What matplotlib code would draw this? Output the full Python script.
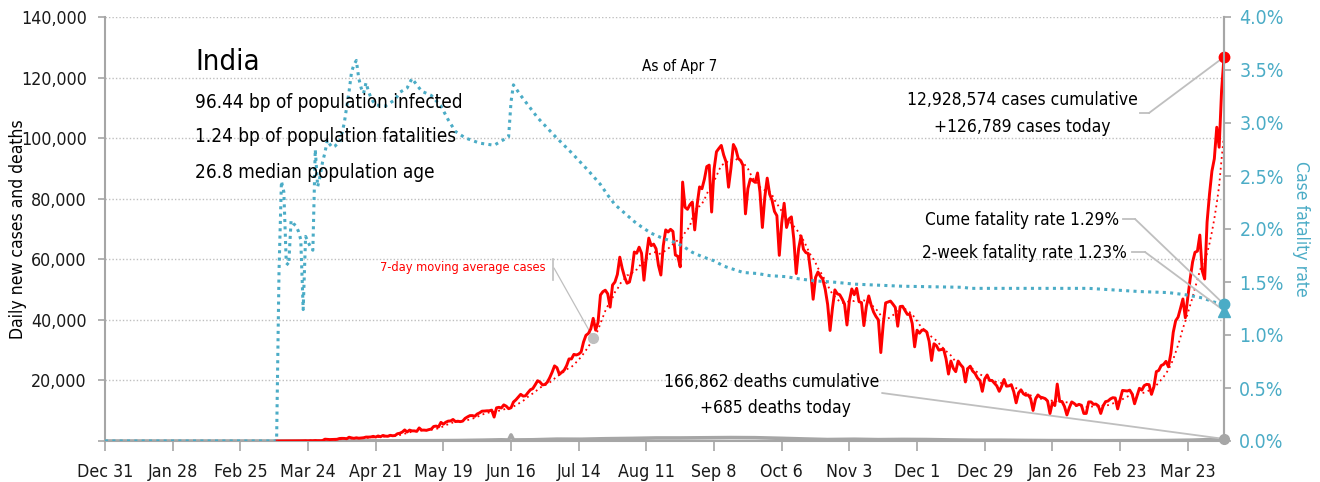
import numpy as np
import pandas as pd
import matplotlib
matplotlib.use("Agg")
import matplotlib.pyplot as plt
from matplotlib import font_manager
from matplotlib.lines import Line2D
from matplotlib.ticker import FuncFormatter, FixedLocator

# prefer a narrow face when one is installed
_fonts = font_manager.fontManager.ttflist
if any(f.name == 'Liberation Sans Narrow' for f in _fonts):
    FAMILY, STRETCH = 'Liberation Sans Narrow', 'normal'
elif any(f.name == 'DejaVu Sans' and f.stretch == 'condensed' for f in _fonts):
    FAMILY, STRETCH = 'DejaVu Sans', 'condensed'
else:
    FAMILY, STRETCH = 'Liberation Sans', 'normal'
plt.rcParams['font.family'] = [FAMILY, 'DejaVu Sans']
plt.rcParams['font.stretch'] = STRETCH

RED = '#FF0000'
CYAN = '#4BACC6'
GRAY = '#A6A6A6'
LIGHT = '#BFBFBF'
INK = '#1a1a1a'

# daily new cases, one list per month (first case day shown: Mar 11 2020)
cases_2020_03 = [6, 11, 10, 9, 13, 8, 23, 14, 38, 50, 86, 66, 103, 37, 121, 70, 160, 100, 87, 146, 601]
cases_2020_04 = [545, 478, 513, 573, 565, 813, 871, 854, 758, 1243, 1031, 886, 1061, 922, 1007, 1079, 1300, 1291,
                 1334, 1540, 1297, 1667, 1408, 1835, 1607, 1561, 1873, 1738, 1801, 2396]
cases_2020_05 = [2564, 2952, 3656, 2971, 3602, 3344, 3339, 3175, 4311, 3592, 3604, 3524, 3763, 3942, 4794, 4930,
                 4630, 6147, 5553, 6198, 6568, 6629, 7111, 6414, 6535, 6387, 6566, 7466, 7964, 8380, 8392]
cases_2020_06 = [8171, 8909, 9304, 9851, 9887, 9971, 9983, 10200, 7900, 10956, 11128, 10900, 11929, 11502, 10667,
                 10974, 12881, 13586, 14516, 15413, 14821, 14933, 15968, 16922, 17296, 18552, 19906, 19459, 18522, 18653]
cases_2020_07 = [19400, 20900, 22700, 24800, 24200, 22000, 22700, 23400, 24900, 27100, 27100, 28600, 28400, 28700,
                 29400, 32700, 34900, 35500, 37000, 40500, 36600, 39200, 48200, 49300, 49800, 48600, 44200, 51500,
                 52500, 55000, 60700]
cases_2020_08 = [57000, 54100, 52100, 52500, 56000, 62400, 62000, 64000, 62000, 53100, 60900, 67000, 64500, 65000,
                 63500, 58000, 54800, 64500, 69700, 69000, 69900, 69200, 61400, 61000, 57500, 85500, 77200, 76500,
                 78000, 78900, 69700]
cases_2020_09 = [78000, 83900, 83300, 86400, 90600, 91100, 75600, 89700, 95500, 96600, 97600, 94400, 92100, 83800,
                 90100, 97900, 96400, 93300, 92600, 91000, 75000, 83300, 86500, 86000, 85400, 88500, 82200, 70500,
                 80500, 86800]
cases_2020_10 = [81500, 79500, 75800, 74400, 61300, 72000, 78500, 70500, 73300, 74000, 66700, 55300, 63500, 67700,
                 63300, 62200, 61900, 55700, 46800, 54000, 55800, 54400, 53400, 50100, 45100, 36500, 43900, 49900,
                 48600, 48300, 46900]
cases_2020_11 = [45200, 38300, 46300, 50200, 48300, 50400, 46000, 45700, 38100, 44300, 47900, 44900, 42600, 41100,
                 40000, 29200, 38600, 45600, 45900, 46200, 45200, 44100, 37900, 44400, 44500, 43100, 41800, 41800,
                 38800, 31100]
cases_2020_12 = [36600, 35600, 36600, 36600, 36000, 32900, 26600, 32100, 31500, 30000, 30200, 30300, 27100, 22100,
                 26400, 24000, 22900, 26400, 25200, 24300, 19500, 23900, 24700, 23100, 22300, 20800, 20000, 16400,
                 20500, 21800, 20000]
cases_2021_01 = [20000, 19100, 18200, 16400, 18100, 20300, 18100, 18200, 18600, 16300, 12600, 15900, 16900, 15600,
                 15100, 15200, 14000, 10100, 13800, 15200, 14500, 14300, 14000, 13200, 9100, 12700, 11700, 18800,
                 13100, 13000, 11400]
cases_2021_02 = [8600, 11000, 12900, 12400, 11700, 12100, 11800, 9100, 9100, 12900, 12900, 12100, 12200, 11600,
                 9100, 11600, 13000, 13200, 13900, 14300, 14200, 10600, 13700, 16700, 16600, 16500, 16800, 15500]
cases_2021_03 = [12300, 14900, 17400, 16800, 18300, 18700, 18600, 15400, 17900, 22900, 23300, 24900, 25300, 26300,
                 24500, 28900, 35900, 39700, 40900, 43800, 46900, 40700, 47300, 53500, 59100, 62300, 62700, 68000,
                 56200, 53500, 72300]
cases_2021_04 = [81500, 89100, 93200, 103600, 97000, 115700, 126789]

# daily deaths (sampled dates)
death_dates = ['2019-12-31', '2020-03-11', '2020-03-25', '2020-04-05', '2020-04-15', '2020-04-25', '2020-05-05',
               '2020-05-15', '2020-05-25', '2020-06-05', '2020-06-12', '2020-06-15', '2020-06-16', '2020-06-17',
               '2020-06-25', '2020-07-05', '2020-07-15', '2020-07-25', '2020-08-05', '2020-08-15', '2020-08-25',
               '2020-09-05', '2020-09-15', '2020-09-25', '2020-10-05', '2020-10-15', '2020-10-25', '2020-11-05',
               '2020-11-15', '2020-11-25', '2020-12-05', '2020-12-15', '2020-12-25', '2021-01-05', '2021-01-15',
               '2021-01-25', '2021-02-05', '2021-02-15', '2021-02-25', '2021-03-05', '2021-03-15', '2021-03-25',
               '2021-04-01', '2021-04-06', '2021-04-07']
deaths = [0, 0, 5, 30, 40, 50, 100, 110, 150, 280, 390, 330, 2003, 340, 400, 610, 580, 750, 860, 1000, 1000,
          1070, 1130, 1090, 900, 680, 480, 580, 450, 520, 480, 350, 250, 250, 180, 130, 120, 90, 110, 100, 160,
          275, 460, 446, 685]

# case fatality rate, %
cfr_dates = ['2019-12-31', '2020-03-11', '2020-03-12', '2020-03-13', '2020-03-14', '2020-03-15', '2020-03-16',
             '2020-03-17', '2020-03-18', '2020-03-19', '2020-03-20', '2020-03-21', '2020-03-22', '2020-03-23',
             '2020-03-24', '2020-03-25', '2020-03-26', '2020-03-27', '2020-03-28', '2020-03-29', '2020-03-30',
             '2020-03-31', '2020-04-01', '2020-04-02', '2020-04-03', '2020-04-04', '2020-04-05', '2020-04-06',
             '2020-04-07', '2020-04-08', '2020-04-09', '2020-04-10', '2020-04-11', '2020-04-12', '2020-04-13',
             '2020-04-14', '2020-04-15', '2020-04-16', '2020-04-17', '2020-04-18', '2020-04-19', '2020-04-20',
             '2020-04-21', '2020-04-25', '2020-04-29', '2020-05-01', '2020-05-04', '2020-05-06', '2020-05-08',
             '2020-05-10', '2020-05-14', '2020-05-18', '2020-05-21', '2020-05-24', '2020-05-28', '2020-06-03',
             '2020-06-09', '2020-06-15', '2020-06-16', '2020-06-17', '2020-06-20', '2020-06-27', '2020-07-04',
             '2020-07-11', '2020-07-18', '2020-07-23', '2020-07-26', '2020-07-29', '2020-08-02', '2020-08-06',
             '2020-08-09', '2020-08-13', '2020-08-17', '2020-08-22', '2020-08-26', '2020-08-30', '2020-09-03',
             '2020-09-08', '2020-09-12', '2020-09-16', '2020-09-20', '2020-09-26', '2020-10-01', '2020-10-08',
             '2020-10-13', '2020-10-20', '2020-10-27', '2020-11-05', '2020-11-15', '2020-11-25', '2020-12-20',
             '2020-12-23', '2021-01-20', '2021-02-10', '2021-02-24', '2021-03-03', '2021-03-15', '2021-03-22',
             '2021-03-29', '2021-04-03', '2021-04-07']
cfr_pct = [0, 0, 1.6, 2.45, 2.35, 1.68, 1.66, 2.08, 2.05, 2.03, 1.98, 1.9, 1.24, 1.93, 1.88, 1.83, 1.8, 2.75, 2.4,
           2.5, 2.63, 2.72, 2.84, 2.8, 2.77, 2.78, 2.8, 2.81, 2.9, 3.0, 3.15, 3.3, 3.48, 3.55, 3.59, 3.42, 3.33,
           3.28, 3.38, 3.3, 3.24, 3.2, 3.17, 3.16, 3.22, 3.29, 3.33, 3.42, 3.36, 3.3, 3.26, 3.16, 3.03, 2.92, 2.86,
           2.81, 2.79, 2.87, 3.2, 3.36, 3.26, 3.05, 2.88, 2.72, 2.55, 2.42, 2.32, 2.23, 2.15, 2.07, 2.02, 1.96,
           1.92, 1.88, 1.84, 1.78, 1.74, 1.70, 1.65, 1.62, 1.59, 1.58, 1.56, 1.55, 1.53, 1.51, 1.50, 1.48, 1.47,
           1.46, 1.45, 1.44, 1.44, 1.44, 1.42, 1.41, 1.40, 1.38, 1.35, 1.31, 1.29]

cume_cfr = 1.29
two_week_cfr = 1.23
cume_cases = 12928574
cume_deaths = 166862

cases = np.array(cases_2020_03 + cases_2020_04 + cases_2020_05 + cases_2020_06 + cases_2020_07 + cases_2020_08
                 + cases_2020_09 + cases_2020_10 + cases_2020_11 + cases_2020_12 + cases_2021_01 + cases_2021_02
                 + cases_2021_03 + cases_2021_04)
dates = pd.date_range('2020-03-11', periods=len(cases), freq='D')
ma7 = pd.Series(cases, index=dates).rolling(7).mean()
death_dates = pd.to_datetime(death_dates)
cfr_dates = pd.to_datetime(cfr_dates)
cfr = np.array(cfr_pct) / 100
last = dates[-1]

W, H = 1320, 482
fig = plt.figure(figsize=(W / 100, H / 100), dpi=100)
ax = fig.add_axes([105 / W, 41 / H, 1119 / W, 424 / H])
ax2 = ax.twinx()


def fp(x, y):
    # pixel position (from top-left) -> figure fraction
    return x / W, 1 - y / H


# left axis: cases and deaths
ax.plot(death_dates, deaths, color=GRAY, lw=2.6, zorder=2, solid_capstyle='butt')
ax.plot(dates, ma7.values, color=RED, lw=1.3, ls=(0, (1, 2)), zorder=3)
ax.plot(dates, cases, color=RED, lw=2.1, zorder=4)
ax.plot([last], [cases[-1]], 'o', color=RED, ms=7.5, zorder=6, clip_on=False)
ax.plot([death_dates[-1]], [deaths[-1]], 'o', color=GRAY, ms=7, zorder=6, clip_on=False)

ma_date = pd.Timestamp('2020-07-20')
ax.plot([ma_date], [ma7[ma_date]], 'o', color=LIGHT, ms=7, zorder=5)

ax.set_xlim(pd.Timestamp('2019-12-31'), last)
ax.set_ylim(0, 140000)
ax.yaxis.set_major_locator(FixedLocator(np.arange(0, 140001, 20000)))
ax.yaxis.set_major_formatter(FuncFormatter(lambda v, p: '' if v == 0 else f'{v:,.0f}'))
xt = pd.date_range('2019-12-31', periods=17, freq='28D')
ax.set_xticks(xt)
ax.set_xticklabels([d.strftime('%b ') + str(d.day) for d in xt])
ax.yaxis.grid(True, ls=(0, (1, 1.5)), color=LIGHT, lw=1)
ax.set_axisbelow(True)

for a in (ax, ax2):
    a.spines['top'].set_visible(False)
    for s in ('left', 'right', 'bottom'):
        a.spines[s].set_color(GRAY)
        a.spines[s].set_linewidth(1.5)
ax2.spines['left'].set_visible(False)
ax2.spines['bottom'].set_visible(False)

ax.tick_params(axis='y', direction='out', length=5, width=1.2, color=GRAY, labelsize=12.8, pad=8, labelcolor=INK)
ax.tick_params(axis='x', direction='out', length=7, width=1.2, color=GRAY, labelsize=12.8, pad=9, labelcolor=INK)
ax.set_ylabel('Daily new cases and deaths', fontsize=12.6)
ax.yaxis.set_label_coords(-0.07, 0.5)

# right axis: case fatality rate
ax2.plot(cfr_dates, cfr, color=CYAN, lw=2.2, ls=(0, (1, 1.4)), zorder=3)
ax2.plot([last], [cume_cfr / 100], 'o', color=CYAN, ms=7.5, zorder=6, clip_on=False)
ax2.plot([last], [two_week_cfr / 100], '^', color=CYAN, ms=8, zorder=6, clip_on=False)
ax2.set_ylim(0, 0.04)
ax2.yaxis.set_major_locator(FixedLocator(np.arange(0, 0.0401, 0.005)))
ax2.yaxis.set_major_formatter(FuncFormatter(lambda v, p: f'{v * 100:.1f}%'))
ax2.tick_params(axis='y', direction='out', length=5, width=1.2, color=GRAY, labelsize=14, pad=6, labelcolor=CYAN)
ax2.set_ylabel('Case fatality rate', fontsize=12.6, color=CYAN, rotation=270, va='bottom')
ax2.yaxis.set_label_coords(1.061, 0.5)

# headline block
fig.text(*fp(195, 62), 'India', fontsize=21, ha='left', va='center')
fig.text(*fp(195, 102), '96.44 bp of population infected', fontsize=13.6, ha='left', va='center')
fig.text(*fp(195, 137), '1.24 bp of population fatalities', fontsize=13.6, ha='left', va='center')
fig.text(*fp(195, 172), '26.8 median population age', fontsize=13.6, ha='left', va='center')
fig.text(*fp(680, 67), 'As of Apr 7', fontsize=11, ha='center', va='center')

# callouts
fig.text(*fp(1022, 100), f'{cume_cases:,} cases cumulative', fontsize=12.5, ha='center', va='center')
fig.text(*fp(1022, 127), f'+{cases[-1]:,} cases today', fontsize=12.5, ha='center', va='center')
fig.text(*fp(1119, 220), f'Cume fatality rate {cume_cfr:.2f}%', fontsize=12.3, ha='right', va='center')
fig.text(*fp(1127, 253), f'2-week fatality rate {two_week_cfr:.2f}%', fontsize=12.3, ha='right', va='center')
fig.text(*fp(772, 382), f'{cume_deaths:,} deaths cumulative', fontsize=12.5, ha='center', va='center')
fig.text(*fp(775, 408), f'+{deaths[-1]:,} deaths today', fontsize=12.5, ha='center', va='center')
fig.text(*fp(546, 268), '7-day moving average cases', fontsize=9.2, ha='right', va='center', color=RED)

leader = dict(arrowstyle='-', color=LIGHT, lw=1.3, shrinkA=0, shrinkB=0)


def stub(x0, x1, y):
    fig.add_artist(Line2D([x0 / W, x1 / W], [1 - y / H, 1 - y / H], color=LIGHT, lw=1.3))


stub(1140, 1149, 113)
ax.annotate('', xy=(last, cases[-1]), xytext=fp(1149, 113), textcoords='figure fraction', arrowprops=leader)
stub(1123, 1135, 219)
ax2.annotate('', xy=(last, cume_cfr / 100), xytext=fp(1135, 219), textcoords='figure fraction', arrowprops=leader)
stub(1132, 1145, 252)
ax2.annotate('', xy=(last, two_week_cfr / 100), xytext=fp(1145, 252), textcoords='figure fraction',
             arrowprops=leader)
ax.annotate('', xy=(death_dates[-1], deaths[-1]), xytext=fp(882, 393), textcoords='figure fraction',
            arrowprops=leader)
fig.add_artist(Line2D([553 / W, 553 / W], [1 - 259 / H, 1 - 280 / H], color=LIGHT, lw=1.2))
ax.annotate('', xy=(ma_date, ma7[ma_date]), xytext=fp(554, 268), textcoords='figure fraction',
            arrowprops=dict(arrowstyle='-', color=LIGHT, lw=0.9, shrinkA=0, shrinkB=0))

fig.savefig('out.png', dpi=100)
